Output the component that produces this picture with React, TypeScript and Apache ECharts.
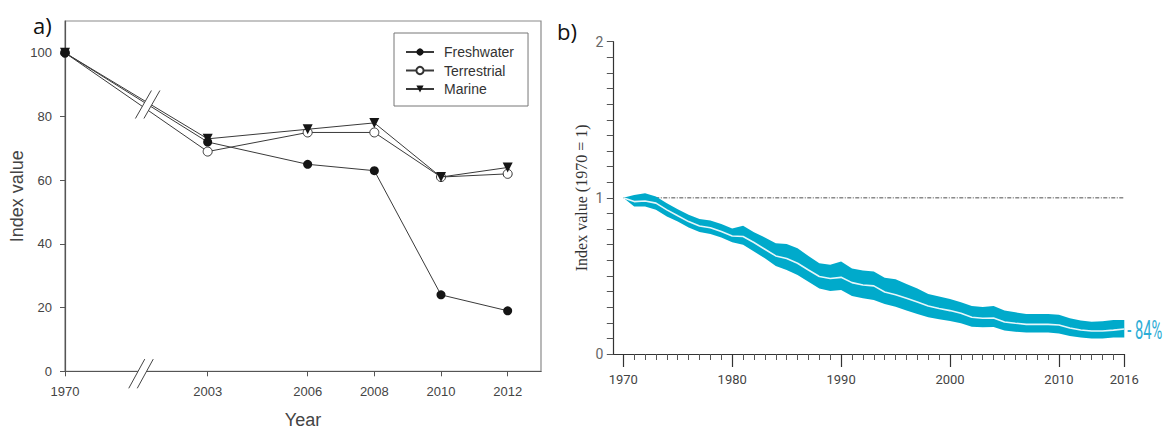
import React, { useEffect, useRef } from 'react';
import * as echarts from 'echarts';

// ---- Panel a: index value by habitat ----
const studyYears = [1970, 2003, 2006, 2008, 2010, 2012];
const freshwater = [100, 72, 65, 63, 24, 19];
const terrestrial = [100, 69, 75, 75, 61, 62];
const marine = [100, 73, 76, 78, 61, 64];
const indexTicks = [0, 20, 40, 60, 80, 100];

// ---- Panel b: Living Planet Index with confidence band ----
const lpiYears = [
  1970, 1971, 1972, 1973, 1974, 1975, 1976, 1977, 1978, 1979,
  1980, 1981, 1982, 1983, 1984, 1985, 1986, 1987, 1988, 1989,
  1990, 1991, 1992, 1993, 1994, 1995, 1996, 1997, 1998, 1999,
  2000, 2001, 2002, 2003, 2004, 2005, 2006, 2007, 2008, 2009,
  2010, 2011, 2012, 2013, 2014, 2015, 2016,
];
const lpiIndex = [
  1.0, 0.976, 0.98, 0.966, 0.923, 0.885, 0.848, 0.82, 0.808, 0.784,
  0.756, 0.752, 0.714, 0.671, 0.628, 0.611, 0.581, 0.538, 0.496, 0.483,
  0.491, 0.457, 0.442, 0.436, 0.397, 0.38, 0.357, 0.333, 0.308, 0.291,
  0.278, 0.261, 0.235, 0.229, 0.231, 0.205, 0.197, 0.19, 0.19, 0.19,
  0.186, 0.167, 0.154, 0.147, 0.147, 0.153, 0.16,
];
const lpiUpper = [
  1.0, 1.019, 1.03, 1.009, 0.966, 0.927, 0.891, 0.865, 0.855, 0.833,
  0.803, 0.821, 0.78, 0.746, 0.709, 0.705, 0.677, 0.628, 0.581, 0.571,
  0.592, 0.547, 0.534, 0.528, 0.489, 0.479, 0.449, 0.419, 0.385, 0.368,
  0.353, 0.331, 0.308, 0.301, 0.308, 0.278, 0.267, 0.256, 0.256, 0.256,
  0.252, 0.229, 0.214, 0.207, 0.209, 0.218, 0.218,
];
const lpiLower = [
  1.0, 0.944, 0.944, 0.923, 0.88, 0.848, 0.81, 0.782, 0.769, 0.746,
  0.716, 0.699, 0.656, 0.613, 0.564, 0.538, 0.506, 0.462, 0.419, 0.404,
  0.41, 0.372, 0.357, 0.346, 0.321, 0.303, 0.278, 0.256, 0.235, 0.222,
  0.212, 0.197, 0.175, 0.171, 0.173, 0.15, 0.143, 0.137, 0.137, 0.137,
  0.132, 0.115, 0.105, 0.1, 0.1, 0.105, 0.105,
];
const lpiLabelYears = [1970, 1980, 1990, 2000, 2010, 2016];

// The gap 1970 -> 2003 is drawn compressed, as a broken axis.
const BREAK_SPAN = 4.28;
const axisPos = (year: number) =>
  year < studyYears[1] ? studyYears[1] - BREAK_SPAN : year;
const yearAt = (pos: number) =>
  pos < studyYears[1] - BREAK_SPAN / 2 ? studyYears[0] : Math.round(pos);

const SANS = "'Liberation Sans', Arial, sans-serif";
const NARROW = "Roboto, 'Liberation Sans', sans-serif";
const SERIF = "'Liberation Serif', 'DejaVu Serif', serif";
const BAND = '#00AACB';

function buildOption(): any {
  const lineBase = { color: '#3a3a3a', width: 1 };
  return {
    animation: false,
    backgroundColor: '#fff',
    grid: [
      {
        left: 65, top: 21, width: 476, height: 350.3,
        show: true, borderColor: '#8a8a8a', borderWidth: 1.2,
        outerBoundsMode: 'none',
      },
      {
        left: 613.3, top: 41.7, width: 511, height: 312.3,
        outerBoundsMode: 'none',
      },
    ],
    legend: {
      data: ['Freshwater', 'Terrestrial', 'Marine'],
      orient: 'vertical',
      left: 394, top: 33,
      padding: [12, 14, 10, 11],
      itemWidth: 28, itemHeight: 9, itemGap: 4.5,
      borderColor: '#777', borderWidth: 1,
      selectedMode: false,
      textStyle: { fontFamily: SANS, fontSize: 14, color: '#333', lineHeight: 13, padding: [0, 0, 0, 5] },
    },
    xAxis: [
      {
        gridIndex: 0, type: 'value',
        min: studyYears[1] - BREAK_SPAN, max: 2013,
        name: 'Year', nameLocation: 'middle', nameGap: 40,
        nameTextStyle: { fontFamily: SANS, fontSize: 18, color: '#444' },
        axisLine: { lineStyle: { color: '#555', width: 1.2 } },
        axisTick: { customValues: studyYears.map(axisPos), length: 5, lineStyle: { color: '#555' } },
        axisLabel: {
          customValues: studyYears.map(axisPos),
          formatter: (v: number) => String(yearAt(v)),
          fontFamily: SANS, fontSize: 13, color: '#444', margin: 14,
        },
        splitLine: { show: false },
      },
      {
        gridIndex: 1, type: 'value', min: 1969.084, max: 2016,
        axisLine: { lineStyle: { color: '#333', width: 1.2 } },
        axisTick: { customValues: lpiYears, length: 6, lineStyle: { color: '#555', width: 1 } },
        axisLabel: { show: false },
        splitLine: { show: false },
      },
      {
        gridIndex: 1, type: 'value', min: 1969.084, max: 2016, position: 'bottom', offset: 0,
        axisLine: { show: false },
        axisTick: { customValues: lpiLabelYears, length: 13, lineStyle: { color: '#333', width: 1.2 } },
        axisLabel: {
          customValues: lpiLabelYears,
          formatter: (v: number) => String(Math.round(v)),
          fontFamily: NARROW, fontSize: 13, color: '#444', margin: 19,
        },
        splitLine: { show: false },
      },
    ],
    yAxis: [
      {
        gridIndex: 0, type: 'value', min: 0, max: 110,
        name: 'Index value', nameLocation: 'middle', nameGap: 39,
        nameTextStyle: { fontFamily: SANS, fontSize: 18, color: '#444' },
        axisLine: { show: true, lineStyle: { color: '#555', width: 1.2 } },
        axisTick: { show: true, customValues: indexTicks, length: 5, lineStyle: { color: '#555' } },
        axisLabel: { customValues: indexTicks, fontFamily: SANS, fontSize: 13, color: '#444', margin: 13 },
        splitLine: { show: false },
      },
      {
        gridIndex: 1, type: 'value', min: 0, max: 2, interval: 0.1,
        name: 'Index value (1970 = 1)', nameLocation: 'middle', nameGap: 24,
        nameTextStyle: { fontFamily: SERIF, fontSize: 16, color: '#333' },
        axisLine: { show: true, lineStyle: { color: '#333', width: 1.2 } },
        axisTick: { show: true, length: 6.5, lineStyle: { color: '#555' } },
        axisLabel: {
          formatter: (v: number) => (Math.abs(v - Math.round(v)) < 1e-6 ? String(Math.round(v)) : ''),
          fontFamily: NARROW, fontSize: 14, color: '#666', margin: 10,
        },
        splitLine: { show: false },
      },
    ],
    series: [
      {
        type: 'line', name: 'Terrestrial', xAxisIndex: 0, yAxisIndex: 0,
        data: studyYears.map((y, i) => [axisPos(y), terrestrial[i]]),
        symbol: 'circle', symbolSize: 9,
        lineStyle: lineBase,
        itemStyle: { color: '#fff', borderColor: '#333', borderWidth: 1 },
        z: 2,
      },
      {
        type: 'line', name: 'Marine', xAxisIndex: 0, yAxisIndex: 0,
        data: studyYears.map((y, i) => [axisPos(y), marine[i]]),
        symbol: 'triangle', symbolRotate: 180, symbolSize: 10,
        lineStyle: lineBase,
        itemStyle: { color: '#151515' },
        z: 3,
      },
      {
        type: 'line', name: 'Freshwater', xAxisIndex: 0, yAxisIndex: 0,
        data: studyYears.map((y, i) => [axisPos(y), freshwater[i]]),
        symbol: 'circle', symbolSize: 9,
        lineStyle: lineBase,
        itemStyle: { color: '#151515' },
        z: 4,
      },
      {
        type: 'line', name: 'baseline', xAxisIndex: 1, yAxisIndex: 1,
        data: [[lpiYears[0], 1], [lpiYears[lpiYears.length - 1], 1]],
        symbol: 'none',
        lineStyle: { color: '#222', width: 0.8, type: [4, 1.5, 1, 1.5] },
        z: 1,
      },
      {
        type: 'custom', name: 'band', xAxisIndex: 1, yAxisIndex: 1,
        data: lpiYears.map((y, i) => [y, lpiLower[i], lpiUpper[i]]),
        encode: { x: 0, y: [1, 2] },
        clip: false,
        renderItem: (params: any, api: any) => {
          if (params.dataIndex !== 0) return null;
          const pts: number[][] = [];
          lpiYears.forEach((y, i) => pts.push(api.coord([y, lpiUpper[i]])));
          for (let i = lpiYears.length - 1; i >= 0; i--) pts.push(api.coord([lpiYears[i], lpiLower[i]]));
          return { type: 'polygon', shape: { points: pts }, style: { fill: BAND } };
        },
        z: 2,
      },
      {
        type: 'line', name: 'index', xAxisIndex: 1, yAxisIndex: 1,
        data: lpiYears.map((y, i) => [y, lpiIndex[i]]),
        symbol: 'none',
        lineStyle: { color: '#E6F6FA', width: 1.6 },
        z: 3,
      },
    ],
  };
}

function slashPair(cx: number, cy: number, gap: number, hx: number, hy: number, color: string) {
  const l = cx - gap / 2;
  const r = cx + gap / 2;
  return [
    {
      type: 'polygon',
      shape: { points: [[l - hx, cy + hy], [l + hx, cy - hy], [r + hx, cy - hy], [r - hx, cy + hy]] },
      style: { fill: '#fff' },
      z: 50,
    },
    { type: 'line', shape: { x1: l - hx, y1: cy + hy, x2: l + hx, y2: cy - hy }, style: { stroke: color, lineWidth: 1 }, z: 51 },
    { type: 'line', shape: { x1: r - hx, y1: cy + hy, x2: r + hx, y2: cy - hy }, style: { stroke: color, lineWidth: 1 }, z: 51 },
  ];
}

export default function App() {
  const ref = useRef<HTMLDivElement>(null);

  useEffect(() => {
    if (!ref.current) return;
    const chart = echarts.init(ref.current, null, { renderer: 'svg' });
    chart.setOption(buildOption());

    // break marks on the data lines and on the x axis
    const breakPos = 2001.2;
    const t = (breakPos - axisPos(studyYears[0])) / BREAK_SPAN;
    const breakVal = freshwater[0] + (freshwater[1] - freshwater[0]) * t;
    const pLine = chart.convertToPixel({ xAxisIndex: 0, yAxisIndex: 0 }, [breakPos, breakVal]) as number[];
    const pAxis = chart.convertToPixel({ xAxisIndex: 0, yAxisIndex: 0 }, [2001.0, 0]) as number[];

    // end label for panel b
    const last = lpiIndex.length - 1;
    const pEnd = chart.convertToPixel({ xAxisIndex: 1, yAxisIndex: 1 }, [lpiYears[last], lpiIndex[last]]) as number[];
    const change = Math.round((1 - lpiIndex[last]) * 100);

    chart.setOption({
      graphic: [
        ...slashPair(pLine[0], pLine[1], 8.5, 8, 14, '#444'),
        ...slashPair(pAxis[0], pAxis[1] + 2.4, 8.5, 8, 14.6, '#444'),
        {
          type: 'text', x: pEnd[0] + 3, y: pEnd[1] + 1, scaleX: 0.92, scaleY: 1.6, z: 60,
          style: {
            text: `- ${change}%`, fontFamily: NARROW, fontSize: 16,
            fill: '#2EADD6', align: 'left', verticalAlign: 'middle',
          },
        },
        {
          type: 'text', x: 33, y: 25, z: 60,
          style: { text: 'a)', fontFamily: "'Open Sans', sans-serif", fontSize: 22, fill: '#111', align: 'left', verticalAlign: 'middle' },
        },
        {
          type: 'text', x: 557, y: 31, z: 60,
          style: { text: 'b)', fontFamily: "'Open Sans', sans-serif", fontSize: 22, fill: '#111', align: 'left', verticalAlign: 'middle' },
        },
      ],
    });

    return () => chart.dispose();
  }, []);

  return (
    <div
      ref={ref}
      style={{ position: 'absolute', left: 0, top: 0, width: 1168, height: 430 }}
    />
  );
}
